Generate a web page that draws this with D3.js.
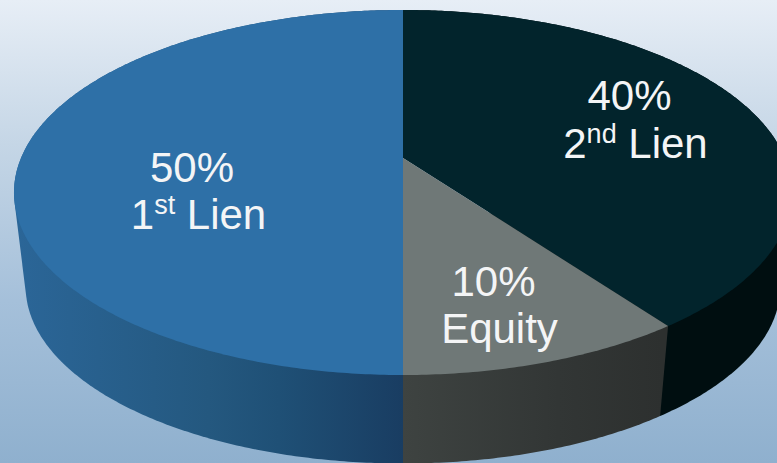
<!DOCTYPE html>
<html>
<head>
<meta charset="utf-8">
<script src="https://cdn.jsdelivr.net/npm/d3@7"></script>
<style>
  html, body { margin: 0; padding: 0; background: #fff; }
  svg { display: block; }
  text { font-family: "Liberation Sans", Arial, sans-serif; fill: #f4f5f6; }
</style>
</head>
<body>
<svg id="chart" width="777" height="463"></svg>
<script>
// Portfolio split by security type
const categories = ["1st Lien", "2nd Lien", "Equity"];
const shares = [50, 40, 10];
const ordinals = ["st", "nd", null];
const ordinalNumbers = ["1", "2", null];
const ordinalTails = ["Lien", "Lien", null];

const topColors = ["#2e70a7", "#02242c", "#6f7877"];
const wallStops = [
  [["#2b6698", 0], ["#24587f", 0.5], ["#1f5076", 0.68], ["#193d62", 1]],
  [["#000e10", 0], ["#000e10", 1]],
  [["#3e4341", 0], ["#323635", 0.6], ["#2d302f", 1]]
];
const wallRanges = [[14, 403], [403, 800], [403, 662]];

const width = 777, height = 463;
const centerX = 403, apexY = 158;
const radiusX = 382, radiusY = 176, tilt = 0.189;
const baseScale = 0.97, baseY = 253;

// Perspective view of the disc: unit circle onto the screen
function project(angle, lower) {
  const u = Math.sin(angle), v = -Math.cos(angle);
  const w = 1 - tilt * v;
  const x = radiusX * u / w, y = radiusY * v / w;
  return lower
    ? [centerX + baseScale * x, baseY + baseScale * y]
    : [centerX + x, apexY + y];
}

function rimPoints(slice, lower) {
  const steps = Math.max(2, Math.ceil((slice.endAngle - slice.startAngle) / 0.01));
  return d3.range(steps + 1).map(i =>
    project(slice.startAngle + (slice.endAngle - slice.startAngle) * i / steps, lower));
}

const slices = d3.pie().sort(null).startAngle(Math.PI).endAngle(3 * Math.PI)(shares);
const svg = d3.select("#chart");
const defs = svg.append("defs");

const backdrop = defs.append("linearGradient")
  .attr("id", "backdrop").attr("x1", 0).attr("y1", 0).attr("x2", 0).attr("y2", 1);
backdrop.append("stop").attr("offset", 0).attr("stop-color", "#e7eef6");
backdrop.append("stop").attr("offset", 0.31).attr("stop-color", "#c5d6e6");
backdrop.append("stop").attr("offset", 0.65).attr("stop-color", "#a5c0da");
backdrop.append("stop").attr("offset", 1).attr("stop-color", "#8fb0ce");
svg.append("rect").attr("width", width).attr("height", height).attr("fill", "url(#backdrop)");

wallStops.forEach((stops, i) => {
  const g = defs.append("linearGradient")
    .attr("id", `wall-${i}`).attr("gradientUnits", "userSpaceOnUse")
    .attr("x1", wallRanges[i][0]).attr("y1", 0).attr("x2", wallRanges[i][1]).attr("y2", 0);
  stops.forEach(([color, offset]) =>
    g.append("stop").attr("offset", offset).attr("stop-color", color));
});

const outline = d3.line();

// Side walls first, far slice to near slice, then the top faces above them
svg.append("g").selectAll("path")
  .data([1, 2, 0])
  .join("path")
  .attr("d", i => outline(d3.polygonHull(
    rimPoints(slices[i], false).concat(rimPoints(slices[i], true)))) + "Z")
  .attr("fill", i => `url(#wall-${i})`);

svg.append("g").selectAll("path")
  .data(slices)
  .join("path")
  .attr("d", s => outline([[centerX, apexY], ...rimPoints(s, false)]) + "Z")
  .attr("fill", (s, i) => topColors[i]);

// Two-line labels: percentage above, name below with an optional ordinal suffix
const labelAnchors = [[192, 182, 198.5, 229], [629.5, 110, 635.5, 158], [493.5, 296, 499.5, 343]];
const labels = svg.append("g").style("font-size", "42px").attr("text-anchor", "middle");
shares.forEach((share, i) => {
  const [x1, y1, x2, y2] = labelAnchors[i];
  labels.append("text").attr("x", x1).attr("y", y1).text(`${share}%`);
  const name = labels.append("text").attr("x", x2).attr("y", y2);
  if (ordinals[i]) {
    name.append("tspan").text(ordinalNumbers[i]);
    name.append("tspan").attr("dy", -15).style("font-size", "27px").text(ordinals[i]);
    name.append("tspan").attr("dy", 15).text("\u00a0" + ordinalTails[i]);
  } else {
    name.text(categories[i]);
  }
});
</script>
</body>
</html>
